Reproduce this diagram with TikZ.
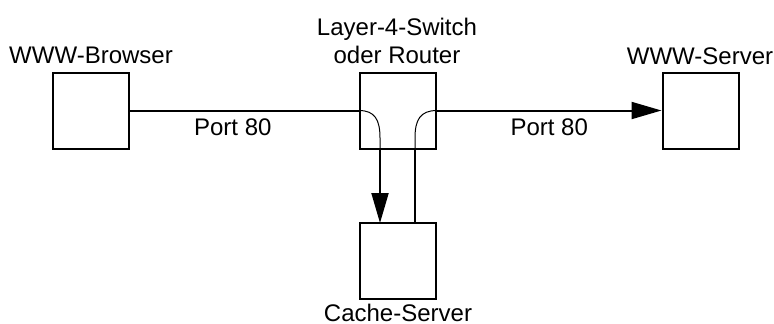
\documentclass[tikz,border=0pt]{standalone}
\usepackage{fontspec}
\setmainfont{Liberation Sans}
\usetikzlibrary{arrows.meta,positioning}
\definecolor{lineblack}{RGB}{0,0,0}

\begin{document}
\begin{tikzpicture}[x=0.5pt, y=-0.5pt,
    box/.style={draw=lineblack, line width=1pt, minimum width=38pt, minimum height=38pt, inner sep=0pt},
    lbl/.style={font=\fontsize{12}{14}\selectfont, inner sep=0pt, anchor=base, align=center},
    wire/.style={draw=lineblack, line width=1pt},
    curveline/.style={draw=lineblack, line width=0.5pt},
    bigtip/.style={-{Triangle[length=15pt, width=8.5pt]}}]

    \useasboundingbox (0,0) rectangle (774,323);

    % 1. Boxes
    \node[box] (browser) at (90.5,110.5) {};
    \node[box] (switch) at (398,110.5) {};
    \node[box] (cache) at (398,261) {};
    \node[box] (server) at (700.5,110.5) {};

    % 2. Labels
    \node[lbl] (browsertxt) at (91,63) {WWW-Browser};
    \node[lbl] (switchtxt) at (397,63) {Layer-4-Switch\\oder Router};
    \node[lbl] (servertxt) at (700,64) {WWW-Server};
    \node[lbl] (cachetxt) at (398,321) {Cache-Server};

    % 3. Connections through the switch
    \coordinate (inL) at (380,149);
    \coordinate (outR) at (415,149);
    \coordinate (cacheL) at (380,223);
    \coordinate (cacheR) at (415,223);

    \draw[wire] (browser.east) -- node[lbl, pos=0.45, below=3.5pt] (portL) {Port 80} (switch.west);
    \draw[curveline] (switch.west) .. controls (375,110.5) and (380,120) .. (380,138) -- (inL);
    \draw[wire, bigtip] (inL) -- (cacheL);
    \draw[wire] (cacheR) -- (outR);
    \draw[curveline] (outR) -- (415,138) .. controls (415,120) and (420,110.5) .. (switch.east);
    \draw[wire, bigtip] (switch.east) -- node[lbl, below=3.5pt] (portR) {Port 80} (server.west);

\end{tikzpicture}
\end{document}
